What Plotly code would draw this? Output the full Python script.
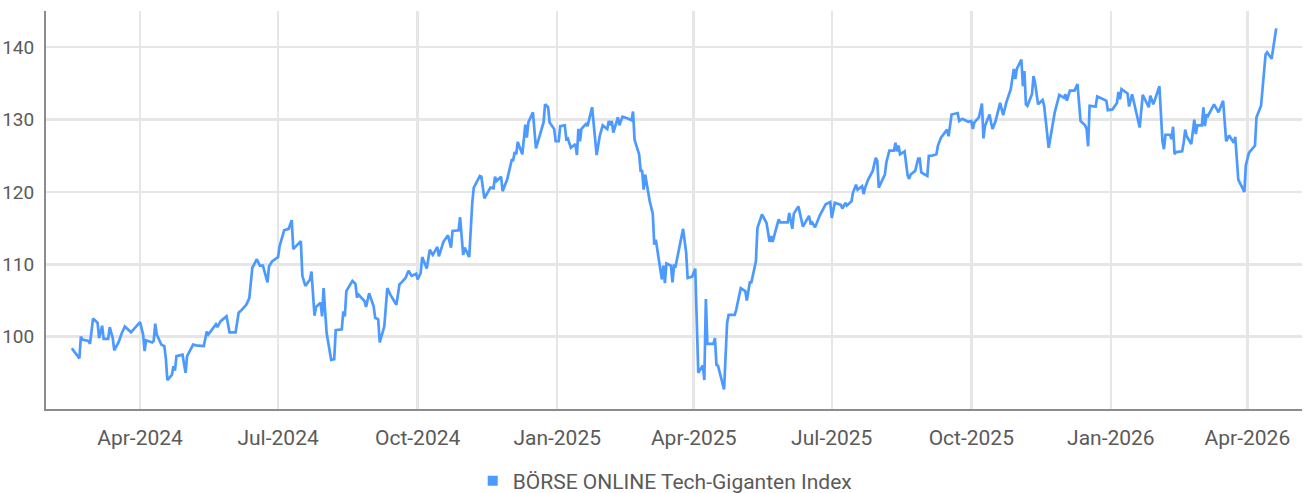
import plotly.graph_objects as go

dates = [
"2024-02-16","2024-02-21","2024-02-22","2024-02-23","2024-02-27","2024-02-28","2024-03-01","2024-03-04","2024-03-05","2024-03-07",
"2024-03-08","2024-03-11","2024-03-12","2024-03-14","2024-03-15","2024-03-18","2024-03-20","2024-03-22","2024-03-26","2024-04-01",
"2024-04-03","2024-04-04","2024-04-05","2024-04-09","2024-04-10","2024-04-11","2024-04-12","2024-04-15","2024-04-17","2024-04-18",
"2024-04-19","2024-04-22","2024-04-23","2024-04-24","2024-04-25","2024-04-29","2024-05-01","2024-05-02","2024-05-06","2024-05-08",
"2024-05-13","2024-05-15","2024-05-16","2024-05-21","2024-05-22","2024-05-24","2024-05-28","2024-05-30","2024-06-03","2024-06-05",
"2024-06-07","2024-06-10","2024-06-12","2024-06-14","2024-06-17","2024-06-19","2024-06-21","2024-06-24","2024-06-25","2024-06-27",
"2024-07-01","2024-07-02","2024-07-05","2024-07-08","2024-07-10","2024-07-11","2024-07-16","2024-07-17","2024-07-19","2024-07-22",
"2024-07-23","2024-07-25","2024-07-26","2024-07-29","2024-07-30","2024-07-31","2024-08-02","2024-08-05","2024-08-07","2024-08-08",
"2024-08-12","2024-08-13","2024-08-14","2024-08-15","2024-08-19","2024-08-21","2024-08-22","2024-08-23","2024-08-27","2024-08-28",
"2024-08-30","2024-09-02","2024-09-03","2024-09-05","2024-09-06","2024-09-09","2024-09-11","2024-09-13","2024-09-17","2024-09-19",
"2024-09-20","2024-09-23","2024-09-25","2024-09-27","2024-09-30","2024-10-01","2024-10-03","2024-10-04","2024-10-07","2024-10-09",
"2024-10-11","2024-10-14","2024-10-15","2024-10-18","2024-10-21","2024-10-23","2024-10-24","2024-10-28","2024-10-29","2024-10-31",
"2024-11-01","2024-11-04","2024-11-06","2024-11-07","2024-11-11","2024-11-12","2024-11-14","2024-11-18","2024-11-20","2024-11-21",
"2024-11-22","2024-11-25","2024-11-26","2024-11-29","2024-12-02","2024-12-03","2024-12-04","2024-12-05","2024-12-06","2024-12-09",
"2024-12-11","2024-12-12","2024-12-13","2024-12-16","2024-12-18","2024-12-20","2024-12-23","2024-12-24","2024-12-26","2024-12-27",
"2024-12-30","2024-12-31","2025-01-02","2025-01-03","2025-01-06","2025-01-07","2025-01-08","2025-01-10","2025-01-13","2025-01-14",
"2025-01-15","2025-01-16","2025-01-17","2025-01-20","2025-01-21","2025-01-24","2025-01-27","2025-01-29","2025-01-31","2025-02-03",
"2025-02-04","2025-02-05","2025-02-06","2025-02-07","2025-02-10","2025-02-11","2025-02-13","2025-02-17","2025-02-19","2025-02-20",
"2025-02-21","2025-02-24","2025-02-25","2025-02-26","2025-02-27","2025-02-28","2025-03-03","2025-03-05","2025-03-06","2025-03-07",
"2025-03-10","2025-03-11","2025-03-12","2025-03-13","2025-03-14","2025-03-17","2025-03-18","2025-03-19","2025-03-20","2025-03-25",
"2025-03-27","2025-03-28","2025-03-31","2025-04-02","2025-04-04","2025-04-07","2025-04-08","2025-04-09","2025-04-10","2025-04-14",
"2025-04-15","2025-04-16","2025-04-17","2025-04-21","2025-04-23","2025-04-24","2025-04-28","2025-04-29","2025-05-02","2025-05-05",
"2025-05-06","2025-05-08","2025-05-09","2025-05-12","2025-05-13","2025-05-16","2025-05-19","2025-05-21","2025-05-22","2025-05-23",
"2025-05-27","2025-05-28","2025-06-02","2025-06-03","2025-06-05","2025-06-06","2025-06-09","2025-06-12","2025-06-16","2025-06-17",
"2025-06-18","2025-06-20","2025-06-23","2025-06-26","2025-06-27","2025-06-30","2025-07-01","2025-07-03","2025-07-07","2025-07-08",
"2025-07-10","2025-07-11","2025-07-14","2025-07-15","2025-07-17","2025-07-18","2025-07-21","2025-07-22","2025-07-23","2025-07-25",
"2025-07-28","2025-07-30","2025-07-31","2025-08-01","2025-08-04","2025-08-05","2025-08-06","2025-08-08","2025-08-11","2025-08-12",
"2025-08-13","2025-08-14","2025-08-15","2025-08-18","2025-08-20","2025-08-21","2025-08-22","2025-08-25","2025-08-27","2025-08-28",
"2025-08-29","2025-09-02","2025-09-03","2025-09-05","2025-09-08","2025-09-09","2025-09-11","2025-09-15","2025-09-16","2025-09-18",
"2025-09-22","2025-09-23","2025-09-25","2025-09-26","2025-09-29","2025-10-01","2025-10-02","2025-10-03","2025-10-06","2025-10-08",
"2025-10-09","2025-10-10","2025-10-13","2025-10-14","2025-10-15","2025-10-17","2025-10-20","2025-10-22","2025-10-24","2025-10-27",
"2025-10-28","2025-10-29","2025-10-30","2025-10-31","2025-11-03","2025-11-04","2025-11-05","2025-11-06","2025-11-07","2025-11-10",
"2025-11-11","2025-11-12","2025-11-14","2025-11-17","2025-11-18","2025-11-19","2025-11-21","2025-11-25","2025-11-28","2025-12-01",
"2025-12-02","2025-12-03","2025-12-05","2025-12-08","2025-12-10","2025-12-12","2025-12-15","2025-12-16","2025-12-17","2025-12-18",
"2025-12-22","2025-12-23","2025-12-29","2025-12-30","2026-01-02","2026-01-05","2026-01-06","2026-01-07","2026-01-08","2026-01-12",
"2026-01-13","2026-01-15","2026-01-20","2026-01-22","2026-01-26","2026-01-27","2026-01-29","2026-02-02","2026-02-04","2026-02-05",
"2026-02-06","2026-02-09","2026-02-10","2026-02-11","2026-02-12","2026-02-13","2026-02-17","2026-02-18","2026-02-19","2026-02-20",
"2026-02-23","2026-02-25","2026-02-26","2026-02-27","2026-03-02","2026-03-03","2026-03-04","2026-03-05","2026-03-06","2026-03-10",
"2026-03-11","2026-03-13","2026-03-16","2026-03-17","2026-03-18","2026-03-20","2026-03-23","2026-03-24","2026-03-26","2026-03-30",
"2026-03-31","2026-04-02","2026-04-06","2026-04-07","2026-04-10","2026-04-13","2026-04-14","2026-04-17","2026-04-20",
]

index_values = [
98.4,97.0,100.0,99.6,99.4,99.0,102.5,101.9,99.8,101.5,
99.7,99.7,101.3,99.8,98.1,99.3,100.5,101.4,100.6,102.0,
100.3,98.0,99.5,99.2,99.4,101.8,100.3,98.9,98.7,97.0,
94.0,94.7,95.9,95.3,97.3,97.5,95.0,97.3,98.9,98.8,
98.7,100.7,100.3,101.7,101.3,102.1,102.8,100.6,100.6,103.3,
103.7,104.4,105.3,109.5,110.7,109.8,109.8,107.5,109.7,110.4,
111.0,112.5,114.7,114.9,116.1,112.1,113.2,108.4,107.0,107.9,
109.0,102.9,104.1,104.7,102.8,106.7,100.5,96.8,96.9,100.9,
101.0,103.5,102.8,106.3,107.7,107.3,105.4,105.8,104.9,104.1,
106.0,104.2,102.6,102.4,99.2,101.4,106.7,105.8,104.4,107.2,
107.4,108.1,109.1,108.4,108.7,107.9,108.8,111.0,109.4,112.0,
111.3,112.4,111.1,113.1,114.0,112.3,114.6,114.7,116.5,111.3,
112.3,111.0,118.5,120.6,122.2,122.1,119.1,120.6,120.5,122.1,
121.5,122.1,120.1,121.7,124.4,124.4,125.5,125.2,126.9,125.2,
129.3,127.5,129.6,131.0,126.0,127.4,129.6,132.1,131.7,129.6,
128.7,127.0,127.0,129.1,129.2,127.3,127.4,126.1,126.6,125.1,
128.7,127.0,128.7,129.4,129.1,131.7,125.1,127.7,129.2,128.7,
129.8,129.2,129.8,128.2,130.3,129.2,130.4,130.1,129.9,131.1,
127.2,125.2,122.9,122.9,120.3,122.4,118.7,117.0,112.7,113.4,
109.0,107.9,109.8,107.4,110.1,109.8,107.5,109.8,109.7,114.9,
111.6,108.1,108.3,109.4,95.0,96.0,94.0,105.2,99.0,99.0,
99.8,96.1,96.0,92.7,101.9,103.0,103.0,103.7,106.7,106.3,
105.0,107.5,107.5,110.4,115.0,116.9,115.7,113.1,113.9,113.1,
116.2,115.8,115.8,117.1,114.9,117.0,118.0,115.2,116.7,115.7,
115.8,115.1,116.7,118.0,118.3,118.6,116.4,118.5,118.2,117.7,
118.5,118.1,118.7,119.9,121.0,120.3,120.8,119.7,120.6,121.7,
122.9,124.7,124.3,120.6,121.8,122.4,124.1,125.7,125.7,126.8,
125.6,126.4,125.2,125.6,122.3,121.8,122.4,122.9,124.6,124.6,
122.7,122.2,125.0,125.0,125.2,126.4,127.5,128.6,127.7,130.7,
130.9,129.8,130.1,130.0,129.7,129.8,128.7,129.6,130.3,132.2,
127.4,129.1,130.7,129.6,128.7,129.8,132.3,130.6,132.3,134.2,
135.9,137.0,135.6,137.0,138.3,134.6,136.7,132.1,131.9,133.5,
136.0,135.1,132.1,132.7,131.9,130.0,126.1,131.0,133.4,133.0,
133.5,132.6,134.0,134.0,134.9,129.8,129.2,128.7,126.3,131.9,
131.8,133.2,132.6,131.3,131.4,132.3,133.8,132.8,134.2,133.6,
131.8,133.5,128.9,133.4,131.7,133.3,132.1,134.6,127.0,125.9,
127.9,127.9,127.3,129.0,125.2,125.5,125.6,126.8,128.6,127.7,
126.6,130.0,128.0,129.2,129.2,131.7,129.1,130.7,130.5,132.1,
131.7,131.0,132.6,130.3,127.0,127.8,126.8,127.6,121.7,120.0,
123.7,125.4,126.4,130.3,131.9,139.0,139.3,138.4,142.6,
]

series_name = "BÖRSE ONLINE Tech-Giganten Index"
y_ticks = [100, 110, 120, 130, 140]
x_range = ["2024-01-30", "2026-05-07"]
y_range = [90, 145]

LINE = "#4c9aff"
TXT = "#5a5a5a"
FONT = "Roboto, sans-serif"

fig = go.Figure()
fig.add_trace(go.Scatter(
    x=dates, y=index_values, mode="lines",
    line=dict(color=LINE, width=2.7),
    showlegend=False, hoverinfo="skip",
))
fig.add_trace(go.Scatter(
    x=[None], y=[None], mode="markers", name=series_name,
    marker=dict(symbol="square", size=10, color=LINE),
    showlegend=True, hoverinfo="skip",
))

fig.update_layout(
    width=1304, height=493,
    margin=dict(l=46, r=2, t=11, b=84, autoexpand=False),
    paper_bgcolor="white", plot_bgcolor="white",
    hovermode=False, dragmode=False,
    font=dict(family=FONT, size=21, color=TXT),
    legend=dict(orientation="h", x=0.493, xanchor="center", y=-0.181, yanchor="middle",
                font=dict(family=FONT, size=21, color=TXT),
                itemwidth=30, tracegroupgap=0),
    xaxis=dict(
        type="date", range=x_range, tick0="2024-04-01", dtick="M3", tickformat="%b-%Y",
        showgrid=True, gridcolor="#e6e6e6", gridwidth=2.5,
        showline=True, linecolor="#8c8c8c", linewidth=2,
        ticks="", ticklabelstandoff=9, zeroline=False, automargin=False,
        tickfont=dict(family=FONT, size=21, color=TXT),
    ),
    yaxis=dict(
        range=y_range, tickvals=y_ticks,
        showgrid=True, gridcolor="#e6e6e6", gridwidth=2.5,
        showline=True, linecolor="#8c8c8c", linewidth=2,
        ticks="", ticklabelstandoff=6, zeroline=False, automargin=False,
        tickfont=dict(family=FONT, size=19, color=TXT),
    ),
)

# remove the browser's default 8px body margin so the figure fills the window
fig.write_html(
    "out.html",
    config={"displayModeBar": False, "staticPlot": True},
    post_script="document.body.style.margin='0';document.body.style.overflow='hidden';",
)
